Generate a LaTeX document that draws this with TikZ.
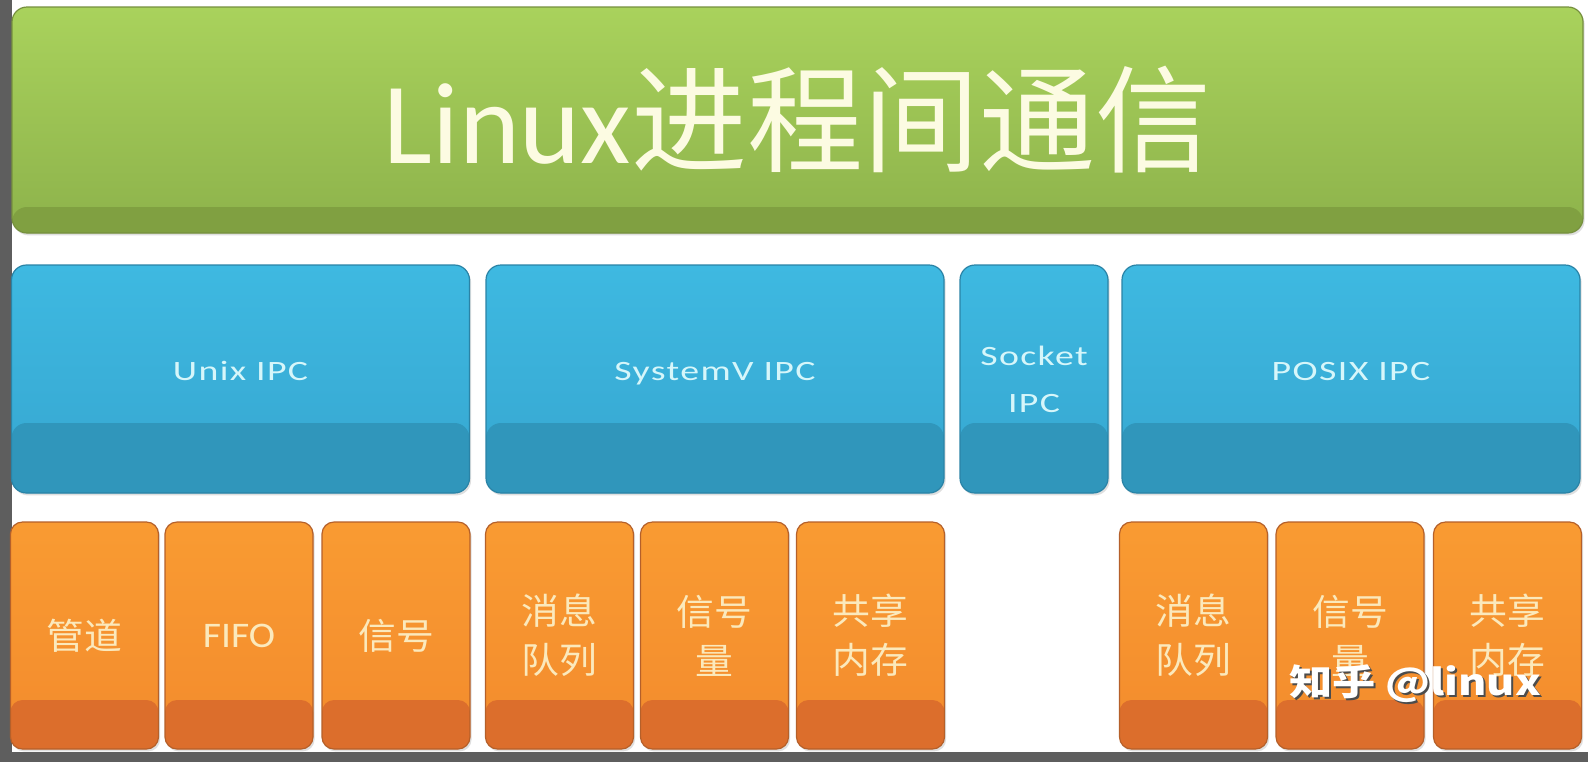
\documentclass[tikz,border=0pt]{standalone}
\usepackage{fontspec}
\setmainfont{Carlito}
\newfontfamily\cjk{Noto Sans CJK SC}
\newfontfamily\ipcfont[FakeStretch=1.35, LetterSpace=5]{Carlito}
\newfontfamily\mechfont[FakeStretch=1.1]{Carlito}
\newfontfamily\mechcjk[FakeStretch=1.05]{Noto Sans CJK SC}
\newfontfamily\markfont[FakeStretch=1.2]{Noto Sans CJK SC}
\usetikzlibrary{shadows}
\usepackage{xcolor}

\definecolor{framegrey}{HTML}{5E5E5E}
\definecolor{greentop}{HTML}{A9D25C}
\definecolor{greenbot}{HTML}{8DB24B}
\definecolor{greenband}{HTML}{80A041}
\definecolor{greenedge}{HTML}{76903E}
\definecolor{bluetop}{HTML}{3EB9E1}
\definecolor{bluebot}{HTML}{36A6D0}
\definecolor{blueband}{HTML}{3096BB}
\definecolor{blueedge}{HTML}{2A83A6}
\definecolor{orgtop}{HTML}{F99B32}
\definecolor{orgbot}{HTML}{F38B2D}
\definecolor{orgband}{HTML}{DC6E2C}
\definecolor{orgedge}{HTML}{B5602A}
\definecolor{titletext}{HTML}{FCFBE2}
\definecolor{ipctext}{HTML}{D6F6FA}
\definecolor{mechtext}{HTML}{FBE9BC}

\tikzset{
  boxshadow/.style={drop shadow={opacity=.25, shadow xshift=.8pt, shadow yshift=-1.2pt}},
  titlebox/.style={rounded corners=7.5pt, draw=greenedge, line width=.6pt,
    top color=greentop, bottom color=greenbot, boxshadow,
    inner sep=0pt, outer sep=0pt,
    minimum width=785.5pt, minimum height=113pt, text=titletext,
    font=\fontsize{58}{60}\selectfont,
    path picture={\fill[greenband] (path picture bounding box.south west)
      rectangle ([yshift=13pt]path picture bounding box.south east);}},
  ipcbox/.style={rounded corners=7.5pt, draw=blueedge, line width=.6pt,
    top color=bluetop, bottom color=bluebot, boxshadow,
    inner sep=0pt, outer sep=0pt,
    minimum width=229pt, minimum height=114pt, text=ipctext,
    text depth=8pt, align=center,
    font=\ipcfont\fontsize{14}{23.5}\selectfont,
    path picture={\fill[blueband] (path picture bounding box.south west)
      rectangle ([yshift=35pt]path picture bounding box.south east);}},
  mechbox/.style={rounded corners=6pt, draw=orgedge, line width=.6pt,
    top color=orgtop, bottom color=orgbot, boxshadow,
    inner sep=0pt, outer sep=0pt,
    minimum width=74pt, minimum height=113.5pt, text=mechtext,
    align=center, font=\mechcjk\fontsize{18}{24.5}\selectfont,
    path picture={\fill[orgband] (path picture bounding box.south west)
      rectangle ([yshift=24.5pt]path picture bounding box.south east);}}
}

\begin{document}
\begin{tikzpicture}[x=0.5pt, y=-0.5pt]
  \useasboundingbox (0,0) rectangle (1588,762);
  % page and frame
  \fill[white] (0,0) rectangle (1588,762);
  \fill[framegrey] (0,0) rectangle (12,762);
  \fill[framegrey] (0,752) rectangle (1588,762);

  % top bar
  \node[titlebox] (ipc) at (797.5,120) {Linux{\cjk 进程间通信}};

  % families
  \node[ipcbox] (unix)  at (240.5,379) {Unix IPC};
  \node[ipcbox] (sysv)  at (715,379)   {SystemV IPC};
  \node[ipcbox, minimum width=74pt, text depth=0pt] (sock) at (1034,379) {Socket\\IPC};
  \node[ipcbox] (posix) at (1351,379)  {POSIX IPC};

  % mechanisms
  \node[mechbox] (pipe)  at (84.5,635.5)  {管道};
  \node[mechbox, font=\mechfont\fontsize{18}{24.5}\selectfont] (fifo) at (239,635.5) {FIFO};
  \node[mechbox] (signal) at (396,635.5)  {信号};
  \node[mechbox] (svmsg) at (559.5,635.5) {消息\\队列};
  \node[mechbox] (svsem) at (714.5,635.5) {信号\\量};
  \node[mechbox] (svshm) at (870.5,635.5) {共享\\内存};
  \node[mechbox] (pxmsg) at (1193.5,635.5) {消息\\队列};
  \node[mechbox] (pxsem) at (1350,635.5)   {信号\\量};
  \node[mechbox] (pxshm) at (1507.5,635.5) {共享\\内存};

  % watermark
  \node[text=black!70, font=\markfont\bfseries\fontsize{18}{20}\selectfont]
    (markshadow) at (1417,686) {知乎 @linux};
  \node[text=white, font=\markfont\bfseries\fontsize{18}{20}\selectfont]
    (mark) at (1415,684) {知乎 @linux};
\end{tikzpicture}
\end{document}
